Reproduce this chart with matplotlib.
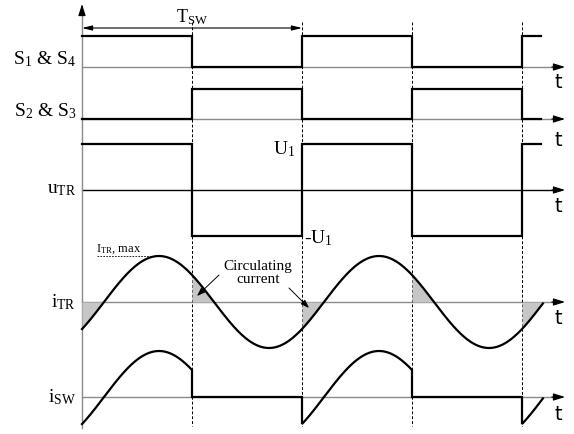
import numpy as np
import matplotlib.pyplot as plt

plt.rcParams['font.family'] = ['Liberation Serif', 'DejaVu Serif']
plt.rcParams['mathtext.fontset'] = 'custom'
plt.rcParams['mathtext.rm'] = 'Liberation Serif'
plt.rcParams['mathtext.it'] = 'Liberation Serif:italic'

# time measured in half switching periods (T_SW / 2)
edges = [0, 1, 2, 3, 4]
t_end = 4.17
s14 = [1, 0, 1, 0, 1]
s23 = [0, 1, 0, 1, 0]
u_tr = [1, -1, 1, -1, 1]
lag = 0.2  # transformer current lags the voltage
labels = ["S$_1$ & S$_4$", "S$_2$ & S$_3$", "u$_\\mathrm{TR}$",
          "i$_\\mathrm{TR}$", "i$_\\mathrm{SW}$"]

# layout (pixel rows on a 574x434 canvas)
W, H = 574, 434
X0, PX = 82, 110            # origin and pixels per half period
base = [67, 119, 190, 302, 397]
amp = [31, 30, 46, 46, 46]
t_lab_y = [83, 140, 207, 319, 414]
t_axis = (565 - X0) / PX

fig = plt.figure(figsize=(W / 100, H / 100), dpi=100)
ax = fig.add_axes([0, 0, 1, 1])
ax.set_xlim(-X0 / PX, (W - X0) / PX)
ax.set_ylim(H, 0)
ax.axis('off')


def px(x):
    return (x - X0) / PX


sig = dict(color='black', lw=1.6, solid_joinstyle='miter')

# time axes with arrow heads
for k, b in enumerate(base):
    c = 'black' if k == 2 else '#8a8a8a'
    ax.plot([0, t_axis - 0.05], [b, b], color=c, lw=1.0, zorder=1)
    ax.annotate("", xy=(t_axis, b), xytext=(t_axis - 0.12, b),
                arrowprops=dict(arrowstyle='-|>,head_length=0.7,head_width=0.22',
                                color='black', lw=0.8, shrinkA=0, shrinkB=0))
    ax.text(px(558), t_lab_y[k], "t", family='DejaVu Sans', fontsize=14,
            ha='center', va='center')
    ax.text(px(76), b - 8 if k < 2 else b, labels[k], fontsize=14,
            ha='right', va='center')

# vertical axis
ax.plot([0, 0], [428, 12], color='#8a8a8a', lw=1.0)
ax.annotate("", xy=(0, 4), xytext=(0, 14),
            arrowprops=dict(arrowstyle='-|>,head_length=0.7,head_width=0.22',
                            color='black', lw=0.8, shrinkA=0, shrinkB=0))

# switching instants
for e in edges[1:]:
    ax.plot([e, e], [22, 426], color='black', lw=0.7, ls=(0, (3, 2)), zorder=1)

# square waves
tx = np.array(edges + [t_end], dtype=float)
for k, states in enumerate([s14, s23, u_tr]):
    y = np.array(states + [states[-1]], dtype=float)
    ax.step(tx, base[k] - amp[k] * y, where='post', zorder=3, **sig)

# transformer current
t = np.linspace(0, 4.19, 800)
i_tr = np.sin(np.pi * (t - lag))
ax.plot(t, base[3] - amp[3] * i_tr, zorder=3, **sig)
for e in edges:
    ta = np.linspace(e, min(e + lag, 4.19), 60)
    ia = np.sin(np.pi * (ta - lag))
    ax.fill_between(ta, base[3], base[3] - amp[3] * ia, color='#c6c6c6',
                    lw=0, zorder=2)

# switch current: i_TR while S1 & S4 conduct
xs, ys = [], []
for k, e in enumerate(edges):
    ts = np.linspace(e, min(e + 1, 4.19), 200)
    val = np.sin(np.pi * (ts - lag)) if s14[k] else np.zeros_like(ts)
    xs.append(ts)
    ys.append(base[4] - amp[4] * val)
ax.plot(np.concatenate(xs), np.concatenate(ys), zorder=3, **sig)

# annotations
ax.annotate("", xy=(0, 28), xytext=(2, 28),
            arrowprops=dict(arrowstyle='<|-|>,head_length=0.6,head_width=0.15',
                            color='black', lw=0.8, shrinkA=0, shrinkB=0))
ax.text(1, 17, "T$_\\mathrm{SW}$", fontsize=13, ha='center', va='center')
ax.text(px(284), 149, "U$_1$", fontsize=14, ha='center', va='center')
ax.text(px(318), 238, "-U$_1$", fontsize=14, ha='center', va='center')

ax.text(px(96), 249, "I$_\\mathrm{TR}$, max", fontsize=9, ha='left', va='center')
ax.plot([px(97), px(152)], [256, 256], color='black', lw=0.6, ls=(0, (2, 1.5)))

ax.text(px(258), 273, "Circulating\ncurrent", fontsize=11, ha='center',
        va='center', linespacing=1.05)
ax.annotate("", xy=(px(197), 296), xytext=(px(219), 275),
            arrowprops=dict(arrowstyle='-|>,head_length=0.5,head_width=0.18',
                            color='black', lw=0.7, shrinkA=0, shrinkB=0))
ax.annotate("", xy=(px(309), 308), xytext=(px(289), 288),
            arrowprops=dict(arrowstyle='-|>,head_length=0.5,head_width=0.18',
                            color='black', lw=0.7, shrinkA=0, shrinkB=0))

fig.savefig("out.png", dpi=100)
